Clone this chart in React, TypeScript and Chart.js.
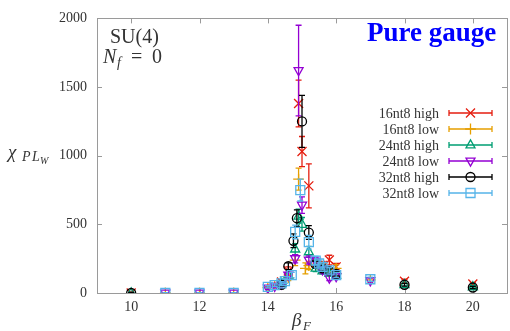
import React, { useEffect, useRef } from 'react';
import { Chart, registerables } from 'chart.js';

Chart.register(...registerables);

// ---- data ----
const xTicks = [10, 12, 14, 16, 18, 20];
const yTicks = [0, 500, 1000, 1500, 2000];
const seriesNames = ['16nt8 high', '16nt8 low', '24nt8 high', '24nt8 low', '32nt8 high', '32nt8 low'];

const beta16h = [10, 14.4, 14.6, 14.9, 15.0, 15.2, 15.4, 15.6, 15.8, 16.0, 18, 20];
const chi16h = [0, 80, 160, 1380, 1030, 780, 220, 200, 240, 190, 85, 65];
const err16h = [5, 15, 30, 170, 110, 160, 30, 30, 35, 25, 15, 10];

const beta16l = [11, 12, 13, 14.0, 14.2, 14.4, 14.6, 14.8, 14.9, 15.1, 15.2, 15.4, 15.6, 15.8, 16.0, 17];
const chi16l = [0, 0, 0, 40, 55, 70, 110, 240, 830, 180, 200, 210, 190, 150, 180, 95];
const err16l = [3, 3, 3, 8, 10, 12, 20, 40, 80, 40, 30, 30, 25, 20, 25, 15];

const beta24h = [10, 14.4, 14.6, 14.8, 14.9, 15.0, 15.2, 15.4, 15.6, 15.8, 16.0, 18, 20];
const chi24h = [0, 70, 130, 320, 560, 500, 300, 180, 160, 145, 130, 60, 45];
const err24h = [4, 10, 20, 40, 50, 50, 40, 25, 20, 18, 15, 10, 8];

const beta24l = [11, 12, 13, 14.0, 14.2, 14.4, 14.6, 14.8, 14.9, 15.0, 15.2, 15.4, 15.6, 15.8, 16.0, 17];
const chi24l = [0, 0, 0, 35, 50, 65, 130, 250, 1620, 640, 240, 230, 170, 110, 120, 90];
const err24l = [3, 3, 3, 8, 10, 12, 20, 30, 330, 60, 30, 30, 25, 20, 20, 20];

const beta32h = [10, 14.4, 14.6, 14.75, 14.85, 15.0, 15.2, 15.4, 15.6, 15.8, 16.0, 18, 20];
const chi32h = [0, 60, 195, 380, 545, 1250, 440, 210, 180, 160, 140, 60, 40];
const err32h = [5, 10, 25, 50, 60, 190, 50, 20, 20, 15, 15, 10, 8];

const beta32l = [11, 12, 13, 14.0, 14.2, 14.4, 14.5, 14.7, 14.8, 14.95, 15.2, 15.4, 15.5, 15.6, 15.8, 16.0, 17];
const chi32l = [0, 0, 0, 45, 57, 70, 86, 130, 445, 750, 370, 236, 215, 190, 165, 130, 100];
const err32l = [3, 3, 3, 8, 10, 12, 15, 20, 50, 80, 50, 30, 25, 22, 20, 18, 15];

// ---- styles ----
const colors = ['#e51e10', '#e69f00', '#009e73', '#9400d3', '#000000', '#56b4e9'];
const markers = ['crossRot', 'cross', 'triangle', 'triangleDown', 'circle', 'rect'];
const SERIF = '"Liberation Serif", "Times New Roman", serif';
const AXIS = '#9a9a9a';
const TEXT = '#333333';

function pts(xs: number[], ys: number[]) {
  return xs.map((x, i) => ({ x, y: ys[i] }));
}

function drawMarker(ctx: CanvasRenderingContext2D, kind: string, x: number, y: number, r: number) {
  ctx.beginPath();
  if (kind === 'crossRot') {
    ctx.moveTo(x - r, y - r); ctx.lineTo(x + r, y + r);
    ctx.moveTo(x - r, y + r); ctx.lineTo(x + r, y - r);
  } else if (kind === 'cross') {
    ctx.moveTo(x - r * 1.2, y); ctx.lineTo(x + r * 1.2, y);
    ctx.moveTo(x, y - r * 1.2); ctx.lineTo(x, y + r * 1.2);
  } else if (kind === 'triangle') {
    ctx.moveTo(x, y - r * 1.15); ctx.lineTo(x + r, y + r * 0.65); ctx.lineTo(x - r, y + r * 0.65); ctx.closePath();
  } else if (kind === 'triangleDown') {
    ctx.moveTo(x, y + r * 1.15); ctx.lineTo(x + r, y - r * 0.65); ctx.lineTo(x - r, y - r * 0.65); ctx.closePath();
  } else if (kind === 'circle') {
    ctx.arc(x, y, r, 0, Math.PI * 2);
  } else if (kind === 'rect') {
    ctx.rect(x - r, y - r, 2 * r, 2 * r);
  }
  ctx.stroke();
}

const gpPlugin = {
  id: 'gp',
  beforeDatasetsDraw(chart: any) {
    const { ctx, chartArea: a, scales } = chart;
    const xs = scales.x, ys = scales.y;
    ctx.save();
    // frame
    ctx.strokeStyle = AXIS;
    ctx.lineWidth = 1;
    ctx.strokeRect(Math.round(a.left) + 0.5, Math.round(a.top) + 0.5, Math.round(a.right - a.left), Math.round(a.bottom - a.top));
    ctx.beginPath();
    xTicks.forEach((v) => {
      const px = Math.round(xs.getPixelForValue(v)) + 0.5;
      ctx.moveTo(px, a.bottom); ctx.lineTo(px, a.bottom - 5);
      ctx.moveTo(px, a.top); ctx.lineTo(px, a.top + 5);
    });
    yTicks.forEach((v) => {
      const py = Math.round(ys.getPixelForValue(v)) + 0.5;
      ctx.moveTo(a.left, py); ctx.lineTo(a.left + 5, py);
      ctx.moveTo(a.right, py); ctx.lineTo(a.right - 5, py);
    });
    ctx.stroke();
    // error bars + markers
    ctx.beginPath();
    ctx.rect(a.left, a.top, a.right - a.left, a.bottom - a.top);
    ctx.clip();
    chart.data.datasets.forEach((ds: any, di: number) => {
      ctx.strokeStyle = ds.borderColor;
      ctx.lineWidth = 1.3;
      ds.data.forEach((p: any, i: number) => {
        const e = ds.err[i];
        const px = xs.getPixelForValue(p.x);
        const t = ys.getPixelForValue(p.y + e);
        const b = ys.getPixelForValue(p.y - e);
        ctx.beginPath();
        ctx.moveTo(px, t); ctx.lineTo(px, b);
        ctx.moveTo(px - 3, t); ctx.lineTo(px + 3, t);
        ctx.moveTo(px - 3, b); ctx.lineTo(px + 3, b);
        ctx.stroke();
        drawMarker(ctx, markers[di], px, ys.getPixelForValue(p.y), 4.5);
      });
    });
    ctx.restore();
  },
  afterDraw(chart: any) {
    const { ctx } = chart;
    ctx.save();
    // legend
    ctx.font = `14px ${SERIF}`;
    ctx.textAlign = 'right';
    ctx.textBaseline = 'middle';
    chart.data.datasets.forEach((ds: any, i: number) => {
      const ly = 113 + 16 * i;
      ctx.fillStyle = TEXT;
      ctx.fillText(ds.label, 439, ly + 1);
      ctx.strokeStyle = ds.borderColor;
      ctx.lineWidth = 1.3;
      ctx.beginPath();
      ctx.moveTo(449, ly); ctx.lineTo(492, ly);
      ctx.moveTo(449, ly - 3); ctx.lineTo(449, ly + 3);
      ctx.moveTo(492, ly - 3); ctx.lineTo(492, ly + 3);
      ctx.stroke();
      drawMarker(ctx, markers[i], 470.5, ly, 4.5);
    });
    // annotations
    ctx.textAlign = 'left';
    ctx.textBaseline = 'alphabetic';
    ctx.fillStyle = TEXT;
    ctx.font = `20px ${SERIF}`;
    ctx.fillText('SU(4)', 110, 43);
    ctx.font = `italic 20px ${SERIF}`;
    ctx.fillText('N', 103, 63);
    ctx.font = `italic 14px ${SERIF}`;
    ctx.fillText('f', 117, 67);
    ctx.font = `20px ${SERIF}`;
    ctx.fillText('=', 131, 63);
    ctx.fillText('0', 152, 63);
    ctx.fillStyle = '#0000ff';
    ctx.font = `bold 27px ${SERIF}`;
    ctx.fillText('Pure gauge', 367, 41);
    // y title
    ctx.fillStyle = TEXT;
    ctx.font = `italic 19px ${SERIF}`;
    ctx.fillText('\u03c7', 8, 158);
    ctx.font = `italic 14px ${SERIF}`;
    ctx.fillText('P', 22, 161);
    ctx.fillText('L', 32, 161);
    ctx.font = `italic 10px ${SERIF}`;
    ctx.fillText('W', 40, 164);
    // x title
    ctx.font = `italic 19px ${SERIF}`;
    ctx.fillText('\u03b2', 292, 326);
    ctx.font = `italic 13px ${SERIF}`;
    ctx.fillText('F', 303, 330);
    ctx.restore();
  },
};

export default function App() {
  const ref = useRef<HTMLCanvasElement>(null);
  useEffect(() => {
    document.body.style.margin = '0';
    const betas = [beta16h, beta16l, beta24h, beta24l, beta32h, beta32l];
    const chis = [chi16h, chi16l, chi24h, chi24l, chi32h, chi32l];
    const errs = [err16h, err16l, err24h, err24l, err32h, err32l];
    const chart = new Chart(ref.current as HTMLCanvasElement, {
      type: 'scatter',
      data: {
        datasets: seriesNames.map((name, i) => ({
          label: name,
          data: pts(betas[i], chis[i]),
          err: errs[i],
          borderColor: colors[i],
          backgroundColor: 'transparent',
          pointRadius: 0,
          showLine: false,
        })) as any,
      },
      options: {
        animation: false,
        responsive: false,
        devicePixelRatio: 1,
        layout: { padding: { left: 0, right: 3, top: 14, bottom: 0 } },
        plugins: { legend: { display: false }, tooltip: { enabled: false } },
        scales: {
          x: {
            type: 'linear',
            min: 9,
            max: 21,
            afterBuildTicks: (s: any) => { s.ticks = xTicks.map((v) => ({ value: v })); },
            afterFit: (s: any) => { s.height = 38; },
            grid: { display: false, drawTicks: false },
            border: { display: false },
            ticks: { color: TEXT, font: { family: SERIF, size: 14 }, padding: 6, maxRotation: 0, callback: (v: any) => String(v) },
          },
          y: {
            type: 'linear',
            min: 0,
            max: 2000,
            afterBuildTicks: (s: any) => { s.ticks = yTicks.map((v) => ({ value: v })); },
            afterFit: (s: any) => { s.width = 97; },
            grid: { display: false, drawTicks: false },
            border: { display: false },
            ticks: { color: TEXT, font: { family: SERIF, size: 14 }, padding: 10, callback: (v: any) => String(v) },
          },
        },
      },
      plugins: [gpPlugin],
    });
    return () => chart.destroy();
  }, []);
  return (
    <div style={{ width: 510, height: 331, background: '#fff' }}>
      <canvas ref={ref} width={510} height={331} style={{ display: 'block' }} />
    </div>
  );
}
